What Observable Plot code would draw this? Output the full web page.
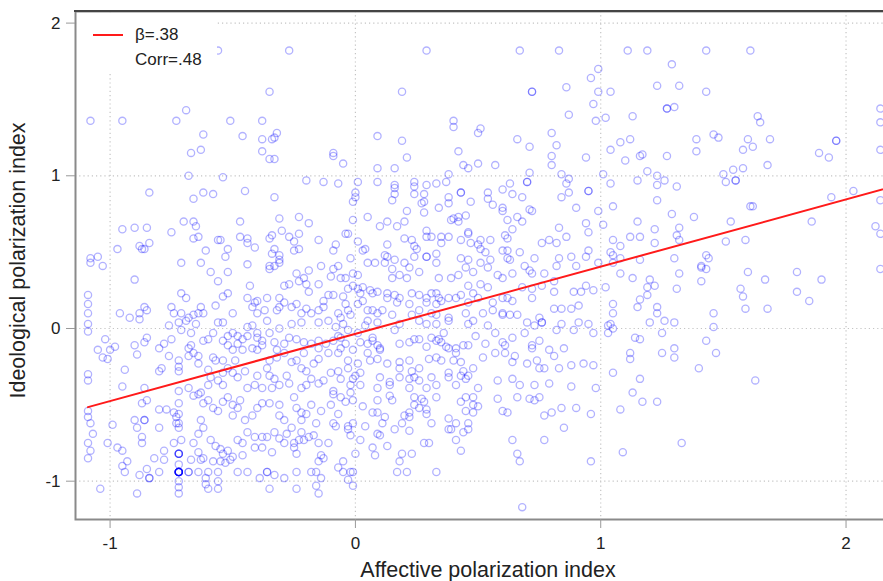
<!DOCTYPE html>
<html>
<head>
<meta charset="utf-8">
<script src="https://cdn.jsdelivr.net/npm/d3@7"></script>
<script src="https://cdn.jsdelivr.net/npm/@observablehq/plot@0.6"></script>
<style>
  html, body { margin: 0; padding: 0; background: #fff; overflow: hidden; }
  #wrap { position: relative; width: 883px; height: 581px; overflow: hidden; background: #fff; }
  #wrap svg { max-width: none !important; display: block; }
  .topline { position: absolute; left: 74px; top: 10px; width: 820px; height: 2px; background: #444; }
  .legend { position: absolute; left: 78px; top: 13px; width: 139px; height: 61px; background: #fff;
            font: 17px "Liberation Sans", Arial, sans-serif; color: #222; }
  .legend .swatch { position: absolute; left: 15px; top: 21px; width: 30px; height: 2px; background: #ff1a1a; }
  .legend .t { position: absolute; left: 57px; line-height: 20px; white-space: nowrap; }
</style>
</head>
<body>
<div id="wrap">
  <div id="chart"></div>
  <div class="topline"></div>
  <div class="legend">
    <div class="swatch"></div>
    <div class="t" style="top:12px">β=.38</div>
    <div class="t" style="top:37px">Corr=.48</div>
  </div>
</div>
<script>
// Respondents: [affective polarization index, ideological polarization index]
const pointsTop = [
  [-0.56,1.82],[-0.27,1.82],[0.29,1.82],[0.67,1.82],[0.83,1.82],[1.11,1.82],[1.19,1.82],[1.43,1.82],[1.61,1.82],
  [1.29,1.73],[0.99,1.70],[0.96,1.64],[1.23,1.59],[1.32,1.59],[0.86,1.58],
  [-0.35,1.55],[0.19,1.55],[0.72,1.55],[0.72,1.55],[0.99,1.55],[1.04,1.55],[1.43,1.55],
  [0.97,1.47],[1.27,1.44],[1.27,1.44],[1.30,1.45],[2.14,1.44],[-0.69,1.43],[0.87,1.40],[1.13,1.39],[1.64,1.39],[1.02,1.38],
  [-1.08,1.36],[-0.95,1.36],[-0.73,1.36],[-0.51,1.36],[-0.38,1.36],[0.40,1.36],[0.98,1.36],[1.65,1.35],[2.14,1.35],
  [0.40,1.32],[0.51,1.31],[-0.32,1.28],[0.50,1.28],[0.80,1.28],[-0.62,1.27],[1.46,1.27],[-0.46,1.26],[0.09,1.26],[-0.33,1.25],[1.48,1.25],
  [-0.38,1.24],[-0.34,1.24],[0.66,1.24],[1.12,1.24],[1.39,1.24],[1.60,1.24],[1.69,1.24],[0.19,1.23],[1.96,1.23],[1.96,1.23],[1.08,1.22],[0.82,1.20]
];

const pointsUpper = [
  [0.71,1.19],[1.62,1.19],[-0.63,1.17],[1.04,1.17],[1.58,1.17],[2.14,1.17],[-0.38,1.16],[0.42,1.16],[1.39,1.16],[-0.67,1.15],[-0.09,1.15],[1.89,1.15],[1.17,1.14],[-0.09,1.13],[0.80,1.13],[1.16,1.13],[1.27,1.13],[0.21,1.12],[0.94,1.12],[1.93,1.12],[-0.35,1.11],[-0.33,1.11],[1.10,1.10],
  [-0.05,1.08],[0.50,1.08],[0.57,1.07],[0.44,1.07],[0.80,1.07],[1.68,1.07],[0.09,1.05],[0.16,1.05],[0.46,1.05],[1.58,1.05],[1.54,1.04],[1.19,1.03],[0.71,1.02],[0.38,1.01],[0.84,1.01],[1.01,1.01],[1.50,1.01],
  [-0.68,1.00],[1.23,1.00],[-0.54,0.99],[0.87,0.98],[-0.20,0.97],[1.15,0.97],[1.26,0.97],[1.55,0.97],[1.55,0.97],[-0.13,0.96],[0.01,0.96],[0.09,0.96],[0.24,0.96],[0.37,0.96],[0.70,0.96],[0.70,0.96],[1.51,0.96],
  [-0.07,0.95],[0.33,0.95],[0.63,0.95],[0.86,0.95],[1.04,0.95],[0.16,0.94],[0.29,0.94],[1.23,0.94],[0.24,0.93],[1.31,0.93],[0.16,0.92],[0.60,0.91],[-0.45,0.90],[0.95,0.90],[0.95,0.90],[2.03,0.90],
  [-0.84,0.89],[-0.62,0.89],[0.00,0.89],[0.43,0.89],[0.43,0.89],[0.54,0.89],[0.87,0.89],[-0.58,0.88],[0.16,0.88],[0.24,0.88],[0.28,0.88],[0.64,0.88],
  [-0.66,0.85],[-0.33,0.86],[0.00,0.86],[0.38,0.86],[0.68,0.86],[0.84,0.86],[1.94,0.86],[0.54,0.85],[0.15,0.84],[1.23,0.84],[2.14,0.84],[-0.01,0.83],[0.47,0.83],[0.27,0.82],[0.28,0.83],[0.38,0.82],[0.56,0.81],[1.05,0.80],[1.61,0.80],[1.62,0.80],
  [0.34,0.79],[0.60,0.79],[0.90,0.79],[0.71,0.78],[0.21,0.77],[0.60,0.77],[0.72,0.77],[0.99,0.77],[0.28,0.76],[1.29,0.75],[0.45,0.74],[0.05,0.73],[0.42,0.73],[0.66,0.73],[1.38,0.73],[-0.23,0.73],[-0.31,0.72],[0.40,0.72],[0.62,0.71],[-0.01,0.71],[0.39,0.71],
  [-0.70,0.70],[-0.66,0.70],[-0.47,0.70],[0.13,0.70],[0.20,0.70],[0.42,0.70],[0.68,0.70],[1.15,0.70],[1.53,0.70],[1.86,0.70],[-0.19,0.69],[0.94,0.69],[1.01,0.68],[-0.65,0.67],[0.10,0.67],[0.17,0.67],[2.12,0.67],[-0.90,0.66],[-0.85,0.66],[0.83,0.66],[1.32,0.66],
  [-0.95,0.65],[0.64,0.65],[1.22,0.65],[-0.30,0.64],[0.29,0.64],[-0.75,0.63],[0.46,0.63],[0.95,0.63],[-0.23,0.62],[-0.04,0.62],[-0.03,0.62],[0.46,0.62],[2.14,0.62],[-0.34,0.61],[0.61,0.61],[1.31,0.61],
  [-0.64,0.60],[-0.47,0.60],[-0.27,0.60],[0.29,0.60],[0.31,0.60],[0.35,0.60],[0.38,0.60],[0.86,0.60],[1.12,0.60],[1.16,0.60],[-0.66,0.59],[-0.44,0.59],[-0.35,0.59],[0.20,0.59],[0.62,0.59],
  [-0.56,0.58],[-0.55,0.58],[-0.15,0.58],[0.23,0.58],[0.43,0.58],[0.51,0.58],[0.55,0.58],[0.79,0.58],[1.05,0.58],[1.32,0.58],[1.59,0.58],[-0.25,0.57],[0.01,0.57],[1.51,0.57],
  [-0.84,0.56],[-0.44,0.56],[0.35,0.56],[0.47,0.56],[0.76,0.56],[0.82,0.56],[1.22,0.56],[-0.08,0.55],[0.13,0.55],[0.50,0.55],[-0.88,0.54],[0.24,0.54],[1.08,0.54],
  [-0.41,0.53],[-0.97,0.52],[-0.87,0.52],[-0.86,0.52],[-0.52,0.52],[-0.33,0.52],[-0.23,0.52],[0.04,0.52],[0.25,0.52],[0.51,0.52],[-0.61,0.51],[-0.25,0.51],[-0.09,0.51],[0.03,0.51],[0.60,0.51],[0.62,0.51],[0.95,0.51],
  [0.53,0.50],[0.67,0.50],[1.04,0.50],[-0.34,0.49],[0.33,0.49],[-0.31,0.48],[0.12,0.48],[1.05,0.48],[1.43,0.48],[-0.53,0.47],[-1.05,0.47],[0.13,0.47],[0.24,0.47],[0.29,0.47],[0.29,0.47],[0.88,0.47],[0.94,0.47],
  [-1.08,0.46],[-0.02,0.46],[0.43,0.46],[0.62,0.46],[0.73,0.46],[0.83,0.46],[1.08,0.46],[1.30,0.46],[1.44,0.46],[-0.31,0.45],[0.16,0.45],[0.46,0.45],[0.55,0.45],[0.63,0.45],[1.16,0.45],
  [-1.08,0.43],[-0.71,0.43],[-0.63,0.43],[-0.31,0.43],[0.05,0.43],[0.08,0.43],[0.12,0.43],[0.20,0.43],[0.33,0.43],[0.51,0.43],[0.99,0.43],[1.05,0.43],[-0.44,0.42],
  [-1.03,0.41],[-0.35,0.41],[-0.33,0.41],[-0.14,0.41],[-0.07,0.41],[0.69,0.41],[0.82,0.41],[0.90,0.41],[1.41,0.41],[0.22,0.40],[0.45,0.40],[0.54,0.40],[1.41,0.40]
];

const pointsRight = [
  [1.08,0.36],[1.13,0.33],[1.20,0.32],[1.22,0.28],[1.19,0.27],[1.19,0.22],[1.16,0.19],[1.15,0.14],[1.23,0.14],[1.23,0.10],[1.32,0.36],[1.31,0.26],[1.43,0.39],[1.41,0.31],[1.60,0.37],[1.67,0.32],[1.80,0.37],[1.90,0.32],[1.80,0.24],[1.85,0.18],[1.57,0.26],[1.58,0.21],[1.59,0.13],[1.68,0.13],[2.14,0.39],
  [1.05,0.16],[1.05,0.10],[1.04,0.03],[1.05,0.00],[1.03,-0.03],[1.20,0.04],[1.26,0.05],[1.30,0.04],[1.25,-0.03],[1.14,-0.06],[1.16,-0.07],[1.46,0.10],[1.46,0.01],[1.43,-0.08],[1.47,-0.16],[1.12,-0.16],[1.12,-0.20],[1.25,-0.16],[1.30,-0.13],[1.30,-0.19],[1.40,-0.26],[1.05,-0.29],[1.16,-0.33],[1.63,-0.34],[1.13,-0.42],
  [1.08,-0.53],[1.17,-0.48],[1.23,-0.48],[1.09,-0.81],[1.33,-0.75]
];

const pointsMiddleLeft = [
  [-1.09,0.22],[-1.09,0.16],[-1.09,0.10],[-1.09,0.03],[-1.09,-0.02],[-1.09,-0.30],[-1.09,-0.34],
  [-0.90,0.32],[-0.96,0.10],[-0.92,0.07],[-0.88,0.06],[-0.88,0.10],[-0.86,0.14],[-0.85,0.12],[-1.02,-0.07],[-1.05,-0.14],[-1.03,-0.19],[-1.01,-0.20],[-1.00,-0.14],[-0.98,-0.12],[-0.94,-0.27],[-0.95,-0.38],[-0.90,-0.11],[-0.89,-0.17],[-0.86,-0.09],[-0.85,-0.06],[-0.86,-0.39],
  [-0.80,-0.28],[-0.79,-0.26],[-0.80,-0.13],[-0.78,-0.10],[-0.75,-0.07],[-0.76,-0.18],[-0.76,0.02],[-0.75,0.14],[-0.74,0.10],[-0.71,0.23],[-0.69,0.20],[-0.71,0.10],[-0.72,0.04],[-0.69,0.05],[-0.71,-0.01],[-0.67,-0.03],[-0.65,0.03],[-0.68,0.07],[-0.66,0.09],[-0.64,0.10],[-0.63,0.14],[-0.62,0.10],
  [-0.72,-0.21],[-0.72,-0.25],[-0.72,-0.28],[-0.68,-0.13],[-0.67,-0.11],[-0.66,-0.16],[-0.64,-0.18],[-0.68,-0.18],[-0.64,-0.23],[-0.60,-0.27],[-0.62,-0.08],[-0.60,-0.07],[-0.58,-0.03],[-0.57,0.15],[-0.54,0.21],[-0.52,0.23],[-0.50,0.10],[-0.56,0.04],[-0.54,0.04],[-0.58,-0.19],[-0.57,-0.21],
  [-0.52,-0.11],[-0.54,-0.08],[-0.52,-0.05],[-0.50,-0.03],[-0.48,-0.05],[-0.46,-0.07],[-0.44,-0.05],[-0.44,0.01],[-0.42,0.02],[-0.40,-0.06],[-0.38,-0.08],[-0.46,-0.14],[-0.50,-0.14],[-0.48,-0.10],[-0.42,-0.13],[-0.40,-0.14],[-0.38,-0.11],
  [-0.52,-0.26],[-0.54,-0.29],[-0.50,-0.29],[-0.48,-0.32],[-0.45,-0.28],[-0.49,-0.21],[-0.54,-0.21],[-0.59,-0.32],[-0.56,-0.34],[-0.54,-0.37],[-0.60,-0.37],[-0.63,-0.42],[-0.68,-0.39],[-0.72,-0.41],[-0.44,-0.39],[-0.41,-0.37],[-0.38,-0.39],[-0.40,-0.31],[-0.36,-0.26],[-0.35,-0.31],[-0.33,-0.33],
  [-0.35,-0.21],[-0.32,-0.19],[-0.29,-0.16],[-0.26,-0.22],[-0.24,-0.21],[-0.22,-0.26],[-0.20,-0.28],[-0.17,-0.23],[-0.15,-0.20],[-0.18,-0.33],[-0.15,-0.36],[-0.13,-0.34],[-0.10,-0.29],[-0.07,-0.28],[-0.06,-0.33],[-0.09,-0.41],[-0.27,-0.36],[-0.31,-0.37],[-0.34,-0.39],[-0.22,-0.39],[-0.20,-0.37],[-0.28,-0.31],
  [-0.59,0.37],[-0.56,0.31],[-0.52,0.37],[-0.43,0.28],[-0.35,0.39],[-0.24,0.36],[-0.21,0.33],[-0.19,0.38],[-0.09,0.39],[-0.06,0.33],[-0.10,0.34],[-0.15,0.29],[-0.20,0.29],[-0.23,0.31],[-0.27,0.29],[-0.29,0.28],[-0.19,0.24],[-0.24,0.16],[-0.26,0.14],[-0.29,0.17],[-0.31,0.20],[-0.31,0.14],[-0.32,0.12],
  [-0.36,0.20],[-0.37,0.12],[-0.40,0.18],[-0.41,0.17],[-0.42,0.14],[-0.44,0.20],[-0.40,0.10],[-0.36,0.05],[-0.35,-0.03],[-0.40,-0.03],[-0.31,0.00],[-0.26,0.03],[-0.22,0.10],[-0.22,0.04],[-0.20,0.13],[-0.18,0.10],[-0.15,0.12],[-0.13,0.14],[-0.11,0.22],[-0.09,0.22],[-0.13,0.18],
  [-0.15,0.04],[-0.11,0.05],[-0.08,0.01],[-0.07,0.10],[-0.05,0.03],[-0.07,-0.05],[-0.09,-0.08],[-0.12,-0.10],[-0.15,-0.08],[-0.18,-0.10],[-0.21,-0.09],[-0.24,-0.07],[-0.27,-0.06],[-0.29,-0.10],[-0.33,-0.09],[-0.21,-0.16],[-0.15,-0.13],[-0.11,-0.16],[-0.07,-0.16],[-0.06,-0.13],[-0.32,-0.14]
];

const pointsMiddleRight = [
  [-0.01,0.36],[0.01,0.35],[-0.04,0.33],[-0.01,0.28],[0.01,0.26],[-0.03,0.26],[-0.05,0.21],[-0.04,0.16],[-0.03,0.12],[-0.02,0.09],[-0.06,0.07],[-0.06,-0.06],[-0.04,-0.10],[-0.01,-0.14],[-0.03,-0.21],[0.01,-0.23],[-0.03,-0.26],[0.02,-0.29],[-0.01,-0.33],[-0.02,-0.37],[-0.02,-0.42],
  [0.15,0.39],[0.26,0.37],[0.21,0.33],[0.18,0.35],[0.15,0.33],[0.34,0.33],[0.39,0.33],[0.42,0.35],[0.46,0.28],[0.48,0.37],[0.58,0.35],[0.60,0.33],[0.64,0.36],[0.71,0.38],[0.72,0.36],[0.77,0.36],[0.81,0.31],
  [0.06,0.25],[0.07,0.23],[0.09,0.24],[0.13,0.23],[0.13,0.20],[0.16,0.22],[0.18,0.20],[0.17,0.17],[0.22,0.16],[0.23,0.23],[0.26,0.22],[0.29,0.20],[0.29,0.17],[0.31,0.23],[0.33,0.23],[0.34,0.20],[0.35,0.18],[0.33,0.16],[0.38,0.20],[0.41,0.20],[0.43,0.22],[0.46,0.17],[0.48,0.23],[0.51,0.29],[0.54,0.27],
  [0.50,0.20],[0.56,0.17],[0.60,0.20],[0.62,0.20],[0.64,0.18],[0.68,0.27],[0.72,0.26],[0.72,0.20],[0.76,0.28],[0.81,0.24],[0.89,0.24],[0.92,0.24],[0.94,0.28],[0.97,0.25],[1.02,0.27],[0.02,0.23],[0.03,0.27],[0.03,0.18],[0.01,0.16],
  [0.05,0.12],[0.07,0.12],[0.09,0.10],[0.09,0.04],[0.05,0.05],[0.04,0.02],[0.15,0.09],[0.18,0.03],[0.23,0.09],[0.26,0.05],[0.29,0.03],[0.31,0.10],[0.33,0.09],[0.33,0.03],[0.38,0.07],[0.38,0.05],[0.45,0.10],[0.46,0.03],[0.48,0.05],[0.52,0.10],[0.54,0.02],[0.56,0.12],[0.60,0.10],[0.60,0.09],
  [0.63,0.09],[0.66,0.09],[0.70,0.04],[0.75,0.07],[0.76,0.04],[0.76,0.04],[0.73,0.02],[0.81,0.13],[0.84,0.13],[0.88,0.13],[0.91,0.15],[0.84,0.03],[0.91,0.04],[0.95,0.03],[1.03,0.02],[0.26,0.12],[0.11,0.12],
  [-0.03,-0.01],[0.01,-0.03],[0.02,-0.09],[0.05,-0.10],[0.07,-0.06],[0.07,-0.08],[0.09,-0.11],[0.10,-0.13],[0.16,-0.01],[0.18,-0.10],[0.22,-0.09],[0.24,-0.07],[0.26,-0.07],[0.29,-0.12],[0.31,-0.06],[0.33,-0.08],[0.34,-0.07],[0.35,-0.09],[0.37,-0.12],[0.38,-0.13],[0.41,-0.13],[0.44,-0.11],
  [0.46,-0.11],[0.49,-0.05],[0.53,-0.10],[0.57,-0.03],[0.60,-0.09],[0.61,-0.11],[0.64,-0.06],[0.69,-0.03],[0.72,-0.11],[0.75,-0.08],[0.72,-0.13],[0.79,-0.14],[0.85,-0.13],[0.82,-0.01],[0.89,-0.01],[0.97,-0.03],[0.36,-0.03],
  [0.05,-0.16],[0.06,-0.21],[0.09,-0.20],[0.10,-0.14],[0.13,-0.23],[0.18,-0.22],[0.18,-0.26],[0.22,-0.21],[0.23,-0.28],[0.26,-0.26],[0.30,-0.20],[0.33,-0.19],[0.35,-0.21],[0.38,-0.29],[0.40,-0.21],[0.41,-0.16],[0.43,-0.22],[0.44,-0.28],[0.48,-0.26],[0.52,-0.19],[0.57,-0.16],[0.61,-0.16],
  [0.65,-0.18],[0.64,-0.22],[0.70,-0.23],[0.74,-0.21],[0.75,-0.26],[0.77,-0.26],[0.83,-0.26],[0.88,-0.24],[0.93,-0.23],[0.97,-0.24],[0.81,-0.18],
  [0.09,-0.39],[0.10,-0.32],[0.14,-0.35],[0.14,-0.37],[0.18,-0.32],[0.22,-0.33],[0.24,-0.32],[0.22,-0.39],[0.26,-0.34],[0.29,-0.39],[0.31,-0.32],[0.33,-0.37],[0.38,-0.32],[0.41,-0.37],[0.43,-0.31],[0.45,-0.33],[0.46,-0.31],[0.50,-0.39],[0.58,-0.34],[0.64,-0.33],[0.67,-0.37],[0.73,-0.37],
  [0.79,-0.36],[0.88,-0.38],[0.98,-0.39],[0.00,-0.31],[0.02,-0.37]
];

const pointsLowerRight = [
  [0.58,-0.46],[0.66,-0.45],[0.71,-0.46],[0.73,-0.47],[0.75,-0.45],[0.60,-0.54],[0.62,-0.55],[0.77,-0.57],[0.80,-0.55],[0.84,-0.52],[0.90,-0.52],[0.96,-0.56],[0.85,-0.65],[0.64,-0.73],[0.77,-0.73],[0.66,-0.82],[0.67,-0.87],[0.96,-0.87],[0.68,-1.17],
  [0.43,-0.80],[0.41,-0.73],[0.38,-0.66],[0.39,-0.66],[0.44,-0.68],[0.46,-0.66],[0.46,-0.62],[0.41,-0.62],[0.38,-0.59],[0.31,-0.62],[0.29,-0.56],[0.30,-0.75],[0.28,-0.75],[0.23,-0.82],[0.19,-0.82],[0.18,-0.87],[0.17,-0.94],[0.21,-0.94],[0.33,-0.94],
  [0.13,-0.77],[0.08,-0.83],[0.07,-0.78],[0.02,-0.73],[0.00,-0.82],[-0.01,-0.94],[-0.02,-0.94],[-0.03,-0.99],[-0.01,-1.03],[-0.05,-0.87],[-0.05,-0.94],[0.04,-0.64],[0.09,-0.69],[0.10,-0.70],[0.16,-0.66],[0.22,-0.67],[0.19,-0.62],[0.20,-0.57],[0.22,-0.58],[0.22,-0.55],
  [0.24,-0.50],[0.26,-0.52],[0.28,-0.48],[0.29,-0.53],[0.33,-0.45],[0.43,-0.48],[0.45,-0.45],[0.48,-0.45],[0.48,-0.50],[0.50,-0.51],[0.45,-0.54],[0.48,-0.55],[0.11,-0.62],[0.12,-0.58],[0.07,-0.55],[0.09,-0.55],[0.03,-0.51],[-0.04,-0.48],[-0.01,-0.47],
  [-0.03,-0.64],[-0.01,-0.62],[-0.03,-0.66],[-0.02,-0.70],[0.09,-0.47],[0.14,-0.44],[0.15,-0.47],[0.24,-0.45],[0.27,-0.46]
];

const pointsLowerLeft = [
  [-1.09,-0.54],[-1.09,-0.58],[-1.08,-0.62],[-1.07,-0.69],[-1.09,-0.75],[-1.08,-0.80],[-1.09,-0.85],[-1.01,-0.75],[-0.99,-0.63],[-0.97,-0.78],[-0.95,-0.80],[-0.95,-0.90],[-0.93,-0.87],[-0.94,-0.94],[-1.04,-1.05],[-0.89,-1.08],[-0.88,-0.96],[-0.85,-0.92],[-0.84,-0.98],[-0.84,-0.98],
  [-0.82,-0.85],[-0.80,-0.94],[-0.78,-0.86],[-0.78,-0.80],[-0.80,-0.65],[-0.90,-0.60],[-0.86,-0.60],[-0.86,-0.60],[-0.89,-0.65],[-0.87,-0.71],[-0.87,-0.75],[-0.87,-0.49],[-0.85,-0.47],[-0.80,-0.53],[-0.77,-0.53],[-0.74,-0.55],
  [-0.72,-0.49],[-0.72,-0.56],[-0.72,-0.62],[-0.72,-0.65],[-0.71,-0.73],[-0.72,-0.82],[-0.72,-0.82],[-0.72,-0.82],[-0.72,-0.82],[-0.72,-0.89],
  [-0.72,-0.94],[-0.72,-0.94],[-0.72,-0.94],[-0.72,-0.94],[-0.72,-0.94],[-0.72,-0.94],[-0.72,-0.94],[-0.72,-0.94],[-0.72,-0.94],[-0.72,-0.94],
  [-0.72,-1.00],[-0.72,-1.04],[-0.72,-1.08],[-0.68,-0.94],[-0.68,-0.94],[-0.64,-0.94],[-0.60,-0.94],[-0.56,-0.94],[-0.74,-0.75],[-0.73,-0.62],[-0.73,-0.58],
  [-0.67,-0.86],[-0.66,-0.75],[-0.64,-0.69],[-0.62,-0.65],[-0.63,-0.60],[-0.64,-0.81],[-0.63,-0.86],[-0.62,-0.85],[-0.61,-0.98],[-0.61,-1.02],[-0.60,-1.05],[-0.56,-1.05],[-0.56,-1.00],[-0.58,-0.87],[-0.55,-0.87],[-0.53,-0.88],[-0.51,-0.86],[-0.50,-0.84],
  [-0.48,-0.94],[-0.46,-0.83],[-0.44,-0.94],[-0.39,-0.98],[-0.36,-0.94],[-0.36,-0.94],[-0.35,-1.05],[-0.33,-0.96],[-0.29,-0.98],[-0.24,-0.94],[-0.24,-1.05],[-0.18,-0.94],[-0.16,-0.94],[-0.16,-1.03],[-0.15,-1.08],[-0.14,-0.98],[-0.14,-0.83],[-0.15,-0.87],[-0.13,-0.85],[-0.07,-0.91],
  [-0.59,-0.73],[-0.57,-0.77],[-0.55,-0.79],[-0.54,-0.82],[-0.52,-0.80],[-0.48,-0.73],[-0.46,-0.75],[-0.44,-0.68],[-0.41,-0.71],[-0.38,-0.71],[-0.36,-0.71],[-0.34,-0.81],[-0.41,-0.78],[-0.38,-0.78],[-0.33,-0.68],[-0.31,-0.72],[-0.29,-0.75],[-0.28,-0.69],
  [-0.25,-0.75],[-0.24,-0.82],[-0.25,-0.78],[-0.23,-0.73],[-0.22,-0.68],[-0.21,-0.73],[-0.19,-0.71],[-0.17,-0.70],[-0.15,-0.75],[-0.11,-0.75],[-0.09,-0.62],[-0.08,-0.64],
  [-0.66,-0.44],[-0.64,-0.43],[-0.62,-0.49],[-0.60,-0.47],[-0.58,-0.52],[-0.56,-0.54],[-0.54,-0.48],[-0.52,-0.45],[-0.50,-0.50],[-0.50,-0.57],[-0.48,-0.52],[-0.47,-0.47],[-0.45,-0.60],[-0.42,-0.57],[-0.40,-0.52],[-0.38,-0.49],[-0.35,-0.49],[-0.31,-0.50],[-0.31,-0.57],
  [-0.29,-0.60],[-0.26,-0.65],[-0.25,-0.45],[-0.24,-0.52],[-0.22,-0.55],[-0.22,-0.60],[-0.20,-0.56],[-0.18,-0.50],[-0.16,-0.62],[-0.14,-0.54],[-0.10,-0.50],[-0.09,-0.43],[-0.07,-0.56],[-0.06,-0.45]
];

// Fitted regression line, read at its two ends
const fitX = [-1.09, 2.22];
const fitY = [-0.515, 0.942];

const xTicks = [-1, 0, 1, 2];
const yTicks = [-1, 0, 1, 2];
const xTitle = "Affective polarization index";
const yTitle = "Ideological polarization index";

const points = [].concat(pointsTop, pointsUpper, pointsRight, pointsMiddleLeft, pointsMiddleRight, pointsLowerRight, pointsLowerLeft)
  .map(([x, y]) => ({x, y}));
const fit = fitX.map((x, i) => ({x, y: fitY[i]}));

const font = '"Liberation Sans", Arial, sans-serif';

const chart = Plot.plot({
  width: 900,
  height: 581,
  marginLeft: 75,
  marginRight: 0,
  marginTop: 11,
  marginBottom: 62,
  style: {fontFamily: font, fontSize: "17px", color: "#222", background: "#fff", overflow: "visible"},
  x: {domain: [-1.141, 2.222]},
  y: {domain: [-1.251, 2.076]},
  marks: [
    Plot.gridX(xTicks, {stroke: "#c4c4c4", strokeOpacity: 1, strokeWidth: 1.2, strokeDasharray: "1.2,3"}),
    Plot.gridY(yTicks, {stroke: "#c4c4c4", strokeOpacity: 1, strokeWidth: 1.2, strokeDasharray: "1.2,3"}),
    Plot.dot(points, {x: "x", y: "y", r: 3.6, stroke: "#0000ff", strokeOpacity: 0.3, strokeWidth: 1.3, fill: "none"}),
    Plot.line(fit, {x: "x", y: "y", stroke: "#ff1a1a", strokeWidth: 2}),
    Plot.frame({stroke: "#8a8a8a", strokeWidth: 2}),
    Plot.axisX(xTicks, {tickSize: 9, tickPadding: 8, stroke: "#999", fontSize: 17, tickFormat: d => String(d), label: null}),
    Plot.axisY(yTicks, {tickSize: 9, tickPadding: 6, stroke: "#999", fontSize: 17, tickFormat: d => String(d), label: null}),
    Plot.text([xTitle], {frameAnchor: "bottom", lineAnchor: "middle", dy: 51, fontSize: 21.5, fill: "#222"}),
    Plot.text([yTitle], {frameAnchor: "left", textAnchor: "middle", lineAnchor: "middle", rotate: -90, dx: -57, dy: -5, fontSize: 21.5, fill: "#222"})
  ]
});

document.getElementById("chart").appendChild(chart);
</script>
</body>
</html>
